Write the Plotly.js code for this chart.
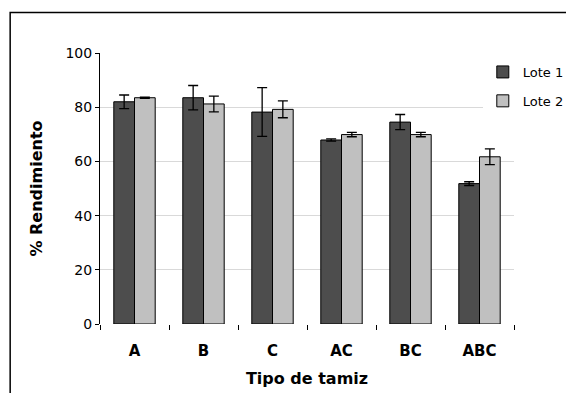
<!DOCTYPE html>
<html>
<head>
<meta charset="utf-8">
<script src="https://cdn.plot.ly/plotly-3.0.1.min.js"></script>
<style>html,body{margin:0;padding:0;background:#fff;}#chart{width:566px;height:393px;}</style>
</head>
<body>
<div id="chart"></div>
<script>
const categories = ["A", "B", "C", "AC", "BC", "ABC"];
const lote1 = [82.0, 83.5, 78.2, 67.9, 74.5, 51.8];
const lote1Err = [2.5, 4.5, 9.0, 0.4, 2.8, 0.7];
const lote2 = [83.5, 81.2, 79.2, 69.9, 69.9, 61.7];
const lote2Err = [0.2, 2.9, 3.1, 0.8, 0.8, 2.9];
const yTicks = [0, 20, 40, 60, 80, 100];

const font = "DejaVu Sans, Verdana, sans-serif";

const traces = [
  {
    type: "bar", name: "Lote 1", x: categories, y: lote1, legendgroup: "g1",
    marker: {color: "#4d4d4d", line: {color: "#000", width: 1}},
    error_y: {type: "data", array: lote1Err, visible: true, color: "#000", thickness: 1.3, width: 5}
  },
  {
    type: "bar", name: "Lote 2", x: categories, y: lote2, legendgroup: "g2",
    marker: {color: "#c0c0c0", line: {color: "#000", width: 1}},
    error_y: {type: "data", array: lote2Err, visible: true, color: "#000", thickness: 1.3, width: 5}
  }
];

const layout = {
  width: 566, height: 393,
  margin: {l: 100, r: 52, t: 53, b: 69, autoexpand: false},
  paper_bgcolor: "#fff", plot_bgcolor: "#fff",
  font: {family: font, color: "#000"},
  barmode: "group", bargap: 0.4, bargroupgap: 0,
  showlegend: true,
  legend: {xref: "container", yref: "container", x: 0.853, y: 0.855, xanchor: "left", yanchor: "top",
           bgcolor: "#fff", itemwidth: 30,
           font: {size: 13, family: font}, tracegroupgap: 9, traceorder: "grouped"},
  xaxis: {
    type: "category", showline: false, showgrid: false, zeroline: false,
    ticks: "outside", tickson: "boundaries", ticklen: 5, tickcolor: "#000", tickwidth: 1,
    ticklabelstandoff: 16,
    tickfont: {size: 15, family: font, weight: "bold"},
    title: {text: "<b>Tipo de tamiz</b>", font: {size: 16, family: font}, standoff: 13}
  },
  yaxis: {
    range: [0, 100], tickvals: yTicks, showline: true, linecolor: "#000", linewidth: 1,
    ticks: "outside", ticklen: 4, tickcolor: "#000",
    showgrid: true, gridcolor: "#d9d9d9", gridwidth: 1, zeroline: false,
    tickfont: {size: 14, family: font},
    title: {text: "<b>% Rendimiento</b>", font: {size: 16, family: font}, standoff: 18}
  },
  shapes: [
    {type: "rect", xref: "paper", yref: "paper", x0: -0.217, x1: 1.3, y0: -0.4, y1: 1.149,
     line: {color: "#000", width: 1.5}, fillcolor: "rgba(0,0,0,0)", layer: "above"}
  ]
};

Plotly.newPlot("chart", traces, layout, {displayModeBar: false, staticPlot: true});
</script>
</body>
</html>
